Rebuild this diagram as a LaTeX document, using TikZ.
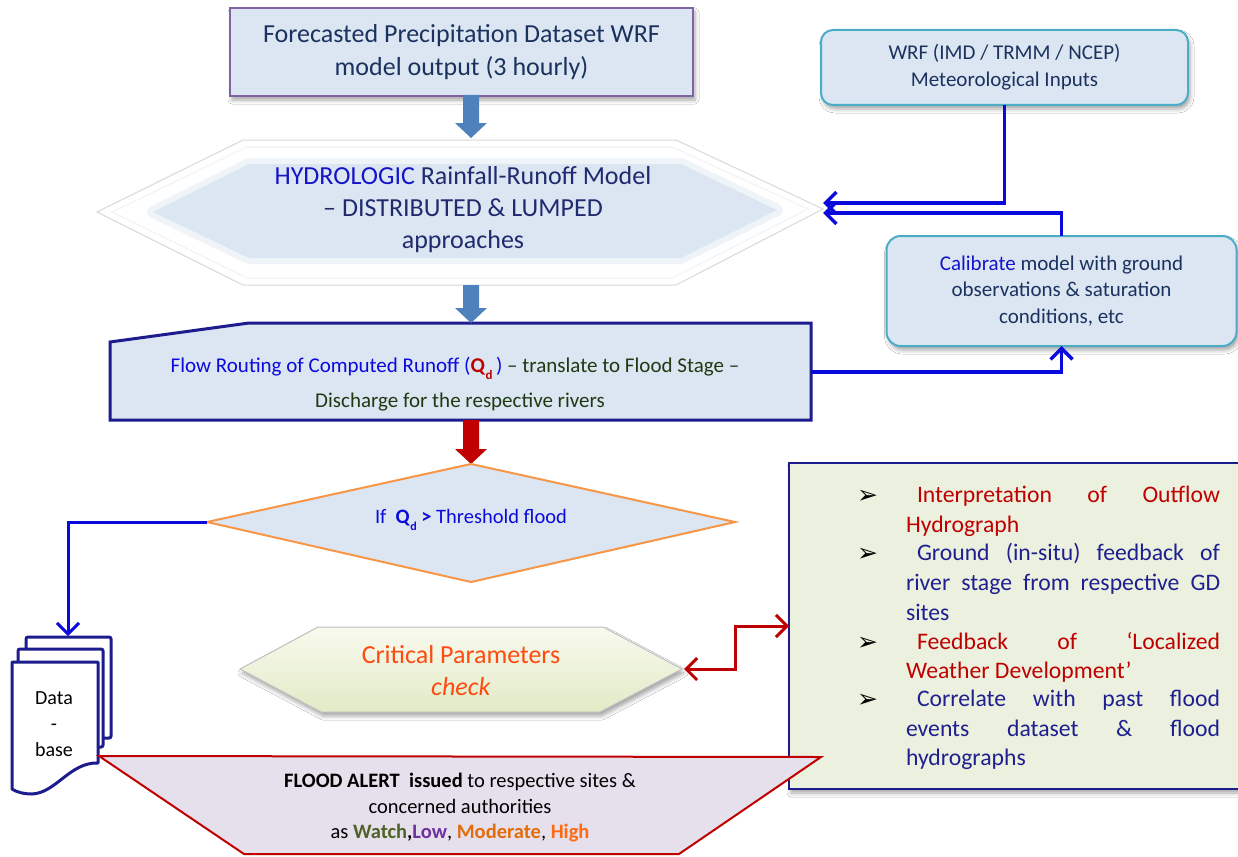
\documentclass[tikz,border=0pt]{standalone}
\usepackage{fontspec}
\setmainfont{Carlito}
\newfontfamily\dejavu{DejaVu Sans}
\usetikzlibrary{arrows.meta,shadows,shadows.blur,calc}
\definecolor{lb}{HTML}{DCE6F2}
\definecolor{purpleborder}{HTML}{8064A2}
\definecolor{navy}{HTML}{1B325F}
\definecolor{hnavy}{HTML}{1F2B6E}
\definecolor{hblue}{HTML}{1515C8}
\definecolor{tealb}{HTML}{4BACC6}
\definecolor{blockblue}{HTML}{4F81BD}
\definecolor{dblue}{HTML}{1C1C8E}
\definecolor{cblue}{HTML}{0A0ADC}
\definecolor{cred}{HTML}{C00000}
\definecolor{dgreen}{HTML}{1F3A12}
\definecolor{orangeb}{HTML}{F79646}
\definecolor{critc}{HTML}{FF4A10}
\definecolor{crittop}{HTML}{F8FAEE}
\definecolor{critbot}{HTML}{E2EAC6}
\definecolor{rfill}{HTML}{EBF1DE}
\definecolor{rnavy}{HTML}{1F1F90}
\definecolor{lav}{HTML}{E5E0EC}
\definecolor{watch}{HTML}{4F6228}
\definecolor{lowc}{HTML}{7030A0}
\definecolor{modc}{HTML}{E46C0A}
\definecolor{highc}{HTML}{FF6A10}
\newcommand\blockarr[3]{%
  \fill[#1] ($(#2)+(-8,0)$) -- ($(#2)+(8,0)$) -- ($(#3)+(8,-15)$) -- ($(#3)+(16,-15)$) -- (#3) -- ($(#3)+(-16,-15)$) -- ($(#3)+(-8,-15)$) -- cycle;}
\begin{document}
\begin{tikzpicture}[x=1pt,y=-1pt,
  every node/.style={inner sep=0pt, outer sep=0pt},
  shad/.style={blur shadow={shadow xshift=2pt, shadow yshift=-4pt, shadow blur radius=4pt, shadow opacity=35}},
  conn/.style={draw=cblue, line width=3.5pt, -{Straight Barb[length=11pt,width=22pt]}},
  rconn/.style={draw=cred, line width=3pt, {Straight Barb[length=11pt,width=22pt]}-{Straight Barb[length=11pt,width=22pt]}},
  rtext/.style={anchor=base west, font=\fontsize{23.7pt}{29pt}\selectfont},
  bul/.style={anchor=base west, font=\dejavu\fontsize{25pt}{28pt}\selectfont}
]
\path[use as bounding box, fill=white] (0,0) rectangle (1238,856);

% ---------- top box
\node[draw=purpleborder, line width=2pt, fill=lb, shad, minimum width=463pt, minimum height=88pt,
  align=center, text=navy, font=\fontsize{26pt}{33pt}\selectfont] (fc) at (461.5,52)
  {Forecasted Precipitation Dataset WRF\\model output (3 hourly)};

% ---------- WRF box
\node[draw=tealb, line width=2pt, fill=lb, rounded corners=12pt, shad, minimum width=367pt, minimum height=75pt,
  align=center, text=navy, font=\fontsize{21pt}{27pt}\selectfont] (wrf) at (1004.5,67.5)
  {WRF (IMD / TRMM / NCEP)\\Meteorological Inputs};

% ---------- Calibrate box
\node[draw=tealb, line width=2pt, fill=lb, rounded corners=14pt, shad, minimum width=350pt, minimum height=110pt,
  align=center, text=navy, font=\fontsize{21pt}{26.5pt}\selectfont] (cal) at (1061.5,291)
  {{\color{hblue}Calibrate} model with ground\\observations \& saturation\\conditions, etc};

% ---------- hydrologic hexagon
\path[fill=white, draw=black!15, line width=1pt] (97,212) -- (243,140) -- (676,140) -- (823,209) -- (676,285) -- (243,285) -- cycle;
\path[draw=lb!35!white, line width=1.5pt] (112,212) -- (247,147) -- (672,147) -- (808,209) -- (672,278) -- (247,278) -- cycle;
\path[draw=lb!45!white, line width=12pt, line join=round] (153,212) -- (249,164) -- (681,164) -- (777,210) -- (681,258) -- (249,258) -- cycle;
\path[fill=lb] (153,212) -- (249,164) -- (681,164) -- (777,210) -- (681,258) -- (249,258) -- cycle;
\node[align=center, text=hnavy, font=\fontsize{26pt}{32pt}\selectfont] (hyd) at (463,210)
  {{\color{hblue}HYDROLOGIC} Rainfall-Runoff Model\\– DISTRIBUTED \& LUMPED\\approaches};
\coordinate (hexRa) at (823,203);
\coordinate (hexRb) at (823,213);

% ---------- flow routing box
\path[draw=dblue, line width=3pt, fill=lb] (110,342) -- (249,323) -- (811,323) -- (811,420) -- (110,420) -- cycle;
\node[text=dgreen, font=\fontsize{21pt}{26pt}\selectfont] (flow1) at (455,368)
  {{\color{cblue}Flow Routing of Computed Runoff (}{\color{cred}\textbf{Q}\raisebox{-7pt}{\fontsize{13pt}{13pt}\selectfont\textbf{d}}}\,{\color{cblue})} – translate to Flood Stage –};
\node[text=dgreen, font=\fontsize{21pt}{26pt}\selectfont] (flow2) at (460,402)
  {Discharge for the respective rivers};
\coordinate (flowE) at (811,372);

% ---------- block arrows
\coordinate (a1s) at (471,95);  \coordinate (a1e) at (471,138);
\coordinate (a2s) at (471,285); \coordinate (a2e) at (471,323);
\coordinate (a3s) at (471,420); \coordinate (a3e) at (471,464);
\blockarr{blockblue}{a1s}{a1e}
\blockarr{blockblue}{a2s}{a2e}
\blockarr{cred}{a3s}{a3e}

% ---------- diamond
\path[draw=orangeb, line width=2pt, fill=lb] (207,522) -- (471,464) -- (735,522) -- (471,582) -- cycle;
\coordinate (dL) at (207,522);
\node[text=cblue, font=\fontsize{20.5pt}{24pt}\selectfont] (dtext) at (471,520)
  {If\ \ \textbf{Q}\raisebox{-7pt}{\fontsize{12pt}{12pt}\selectfont\textbf{d}}\ \textbf{>} Threshold flood};

% ---------- database
\path[draw=dblue, line width=3pt, fill=white, rounded corners=2pt] (26,637) rectangle (111,738);
\path[draw=dblue, line width=3pt, fill=white, rounded corners=2pt] (18,649) rectangle (103,747);
\path[draw=dblue, line width=3pt, fill=white, line join=round] (12,662) -- (98,662) -- (98,763)
  .. controls (70,762) and (56,793) .. (32,794) .. controls (24,794) and (16,792) .. (12,789) -- cycle;
\node[align=center, font=\fontsize{20pt}{26pt}\selectfont] (db) at (54,724) {Data\\-\\base};
\coordinate (dbTop) at (68,636);

% ---------- critical parameters hexagon
\path[shad, draw=black!25, line width=1pt, top color=crittop, bottom color=critbot]
  (240,669) -- (318,627) -- (603,627) -- (682,669) -- (600,712) -- (321,712) -- cycle;
\coordinate (critR) at (684,669);
\node[align=center, text=critc, font=\fontsize{26pt}{32pt}\selectfont] (crit) at (461,671)
  {Critical Parameters\\\textit{check}};

% ---------- right box
\path[shad, fill=rfill] (789,463) rectangle (1238,789);
\draw[dblue, line width=2.5pt] (1239,463) -- (789,463) -- (789,789) -- (1239,789);
\coordinate (rbW) at (789,626);
\node[bul] (b1) at (857,503) {➢};
\node[bul] (b2) at (857,561) {➢};
\node[bul] (b3) at (857,650) {➢};
\node[bul] (b4) at (857,707) {➢};
\node[rtext, text=cred] (r1) at (917,502) {\makebox[303pt][s]{Interpretation of Outflow}};
\node[rtext, text=cred] (r2) at (906,532) {Hydrograph};
\node[rtext, text=rnavy] (r3) at (917,560) {\makebox[303pt][s]{Ground (in-situ) feedback of}};
\node[rtext, text=rnavy] (r4) at (906,590) {\makebox[314pt][s]{river stage from respective GD}};
\node[rtext, text=rnavy] (r5) at (906,620) {sites};
\node[rtext, text=cred] (r6) at (917,649) {\makebox[303pt][s]{Feedback of ‘Localized}};
\node[rtext, text=cred] (r7) at (906,678) {Weather Development’};
\node[rtext, text=rnavy] (r8) at (917,706) {\makebox[303pt][s]{Correlate with past flood}};
\node[rtext, text=rnavy] (r9) at (906,736) {\makebox[314pt][s]{events dataset \& flood}};
\node[rtext, text=rnavy] (r10) at (906,765) {hydrographs};

% ---------- flood alert trapezoid
\path[draw=cred, line width=2pt, fill=lav, line join=miter] (99,756) -- (821,757) -- (679,854) -- (244,854) -- cycle;
\node[align=center, font=\fontsize{20.5pt}{25.5pt}\selectfont] (alert) at (460,808)
  {{\bfseries FLOOD ALERT\ \ issued} to respective sites \&\\concerned authorities\\as {\bfseries\color{watch}Watch}{\bfseries,}{\bfseries\color{lowc}Low}, {\bfseries\color{modc}Moderate}, {\bfseries\color{highc}High}};

% ---------- connectors
\draw[conn] (wrf.south) |- (hexRa);
\draw[conn] (cal.north) |- (hexRb);
\draw[conn] (flowE) -| (cal.south);
\draw[conn, line width=3pt] (dL) -| (dbTop);
\draw[rconn] (critR) -- ++(51,0) |- (rbW);
\end{tikzpicture}
\end{document}
